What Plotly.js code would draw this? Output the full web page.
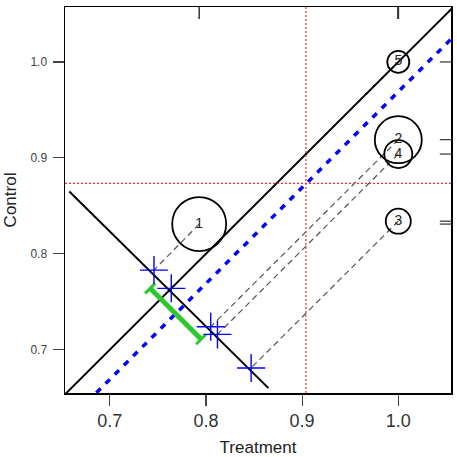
<!DOCTYPE html>
<html>
<head>
<meta charset="utf-8">
<script src="https://cdn.plot.ly/plotly-3.0.1.min.js"></script>
<style>
  html, body { margin: 0; padding: 0; background: #fff; }
  #chart { width: 457px; height: 457px; }
</style>
</head>
<body>
<div id="chart"></div>
<script>
// Event rates per study: treatment arm vs control arm
const studyLabels = ['1', '2', '3', '4', '5'];
const treatment = [0.793, 1.0, 1.0, 1.0, 1.0];
const control = [0.831, 0.919, 0.834, 0.904, 1.0];
const circleSize = [54, 47, 25, 28, 22];

// Each study projected along the identity direction onto the anti-diagonal
const projTreatment = [0.746, 0.805, 0.847, 0.812, 0.764];
const projControl = [0.783, 0.724, 0.681, 0.716, 0.764];

// Overall (pooled) rates in each arm
const meanTreatment = 0.904;
const meanControl = 0.8735;

// Reference lines (data coordinates of their end points)
const identityX = [0.6, 1.1];
const identityY = [0.6, 1.1];
const pooledX = [0.6, 1.1];
const pooledY = [0.569, 1.069];
const antiDiagX = [0.658, 0.865];
const antiDiagY = [0.865, 0.660];

// Confidence interval of the pooled effect, drawn along the anti-diagonal
const ciX = [0.742, 0.795];
const ciY = [0.764, 0.711];

const xRange = [0.6535, 1.0548];
const yRange = [0.6549, 1.0573];

// dashed connectors from each study to its projection
const connX = [], connY = [];
for (let i = 0; i < treatment.length; i++) {
  connX.push(treatment[i], projTreatment[i], null);
  connY.push(control[i], projControl[i], null);
}

const traces = [
  { // connectors
    x: connX, y: connY, mode: 'lines', hoverinfo: 'skip',
    line: { color: '#555', width: 1.2, dash: '6px,4px' }
  },
  { // identity line
    x: identityX, y: identityY, mode: 'lines', hoverinfo: 'skip',
    line: { color: '#000', width: 2 }
  },
  { // pooled line
    x: pooledX, y: pooledY, mode: 'lines', hoverinfo: 'skip',
    line: { color: '#0000ff', width: 3.5, dash: '6px,7px' }
  },
  { // anti-diagonal
    x: antiDiagX, y: antiDiagY, mode: 'lines', hoverinfo: 'skip',
    line: { color: '#000', width: 2 }
  },
  { // confidence interval
    x: ciX, y: ciY, mode: 'lines+markers', hoverinfo: 'skip',
    line: { color: '#2ec82e', width: 5 },
    marker: { symbol: 'line-ne', size: 10, color: '#2ec82e', line: { color: '#2ec82e', width: 3 } }
  },
  { // projected points
    x: projTreatment, y: projControl, mode: 'markers', hoverinfo: 'skip',
    marker: { symbol: 'cross-thin-open', size: 20, color: '#0000ff', line: { color: '#0000ff', width: 1.4 } }
  },
  { // studies
    x: treatment, y: control, mode: 'markers+text', text: studyLabels,
    textposition: 'middle center', cliponaxis: false,
    textfont: { family: 'Liberation Sans, Arial, sans-serif', size: 14, color: '#222' },
    marker: { symbol: 'circle-open', size: circleSize, color: '#000', opacity: 1, line: { color: '#000', width: 1.8 } }
  }
];

const shapes = [
  { type: 'line', xref: 'x', yref: 'paper', x0: meanTreatment, x1: meanTreatment, y0: 0, y1: 1,
    line: { color: 'rgb(240,50,50)', width: 1.2, dash: '2px,2px' } },
  { type: 'line', xref: 'paper', yref: 'y', x0: 0, x1: 1, y0: meanControl, y1: meanControl,
    line: { color: 'rgb(240,50,50)', width: 1.2, dash: '2px,2px' } }
];
// rug marks: treatment values along the top, control values along the right
treatment.forEach(v => shapes.push({
  type: 'line', xref: 'x', yref: 'paper', x0: v, x1: v, y0: 1, y1: 0.969,
  line: { color: '#333', width: 1.5 }
}));
control.forEach(v => shapes.push({
  type: 'line', xref: 'paper', yref: 'y', x0: 1, x1: 0.971, y0: v, y1: v,
  line: { color: '#333', width: 1.2 }
}));

const layout = {
  width: 457, height: 457,
  margin: { l: 65, r: 6, t: 7, b: 64 },
  paper_bgcolor: '#fff', plot_bgcolor: '#fff',
  showlegend: false,
  font: { family: 'Liberation Sans, Arial, sans-serif', color: '#333' },
  xaxis: {
    range: xRange, tickvals: [0.7, 0.8, 0.9, 1.0], ticktext: ['0.7', '0.8', '0.9', '1.0'],
    ticks: 'outside', ticklen: 11, tickwidth: 1.2, tickcolor: '#444',
    tickfont: { size: 18, color: '#333' },
    showgrid: false, zeroline: false,
    showline: true, mirror: true, linecolor: '#000', linewidth: 1.5,
    title: { text: 'Treatment', font: { size: 17, color: '#222' }, standoff: 12 }
  },
  yaxis: {
    range: yRange, tickvals: [0.7, 0.8, 0.9, 1.0], ticktext: ['0.7', '0.8', '0.9', '1.0'],
    ticks: 'outside', ticklen: 11, tickwidth: 1.2, tickcolor: '#444',
    tickfont: { size: 12, color: '#444' }, ticklabelstandoff: 3,
    showgrid: false, zeroline: false,
    showline: true, mirror: true, linecolor: '#000', linewidth: 1.5,
    title: { text: 'Control', font: { size: 17, color: '#222' }, standoff: 9 }
  },
  shapes: shapes
};

Plotly.newPlot('chart', traces, layout, { staticPlot: true, displayModeBar: false });
</script>
</body>
</html>
